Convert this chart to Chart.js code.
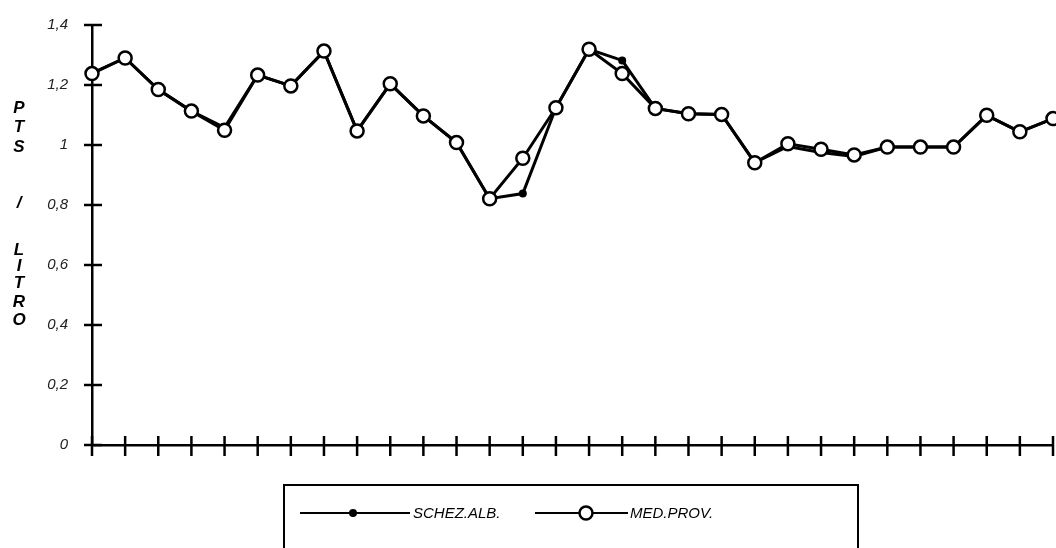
<!DOCTYPE html>
<html>
<head>
<meta charset="utf-8">
<script src="https://cdn.jsdelivr.net/npm/chart.js@4.4.1/dist/chart.umd.min.js"></script>
<style>
  html, body { margin: 0; padding: 0; background: #fff; }
  #wrap { width: 1056px; height: 548px; position: relative; }
</style>
</head>
<body>
<div id="wrap"><canvas id="linechart" width="1056" height="548"></canvas></div>
<script>
// data
var labels = ['1','2','3','4','5','6','7','8','9','10','11','12','13','14','15',
              '16','17','18','19','20','21','22','23','24','25','26','27','28','29','30'];
var schezAlb = [1.24, 1.29, 1.185, 1.113, 1.058, 1.233, 1.197, 1.313, 1.047, 1.204,
                1.097, 1.008, 0.821, 0.838, 1.124, 1.319, 1.282, 1.122, 1.104, 1.102,
                0.941, 0.995, 0.975, 0.962, 0.993, 0.993, 0.993, 1.099, 1.044, 1.088];
var medProv  = [1.238, 1.29, 1.185, 1.113, 1.049, 1.233, 1.197, 1.313, 1.047, 1.204,
                1.097, 1.008, 0.821, 0.956, 1.124, 1.319, 1.238, 1.122, 1.104, 1.102,
                0.941, 1.004, 0.986, 0.967, 0.993, 0.993, 0.993, 1.099, 1.044, 1.088];
var yTitle = ['P', 'T', 'S', '/', 'L', 'I', 'T', 'R', 'O'];
var yTitleY = [108, 127, 147, 203, 250, 266, 283, 302, 320];

// axis ticks crossing both sides of the axis lines, vertical title, boxed legend
var decor = {
  id: 'decor',
  afterDraw: function(chart) {
    var ctx = chart.ctx;
    var xs = chart.scales.x, ys = chart.scales.y;
    var a = chart.chartArea;
    ctx.save();
    ctx.strokeStyle = '#000';
    ctx.lineWidth = 2.5;
    for (var i = 0; i < ys.ticks.length; i++) {
      var py = ys.getPixelForTick(i);
      ctx.beginPath(); ctx.moveTo(a.left - 8, py); ctx.lineTo(a.left + 10, py); ctx.stroke();
    }
    for (var j = 0; j < labels.length; j++) {
      var px = xs.getPixelForValue(j);
      ctx.beginPath(); ctx.moveTo(px, a.bottom - 9); ctx.lineTo(px, a.bottom + 11); ctx.stroke();
    }

    ctx.fillStyle = '#000';
    ctx.font = 'italic bold 17px "Liberation Sans", Arial, sans-serif';
    ctx.textAlign = 'center';
    ctx.textBaseline = 'middle';
    for (var k = 0; k < yTitle.length; k++) {
      ctx.fillText(yTitle[k], 19, yTitleY[k]);
    }

    // legend
    ctx.lineWidth = 2;
    ctx.strokeRect(284, 485, 574, 70);
    var ly = 513;
    ctx.beginPath(); ctx.moveTo(300, ly); ctx.lineTo(410, ly); ctx.stroke();
    ctx.beginPath(); ctx.arc(353, ly, 4, 0, Math.PI * 2); ctx.fill();
    ctx.beginPath(); ctx.moveTo(535, ly); ctx.lineTo(628, ly); ctx.stroke();
    ctx.beginPath(); ctx.arc(586, ly, 6.5, 0, Math.PI * 2);
    ctx.fillStyle = '#fff'; ctx.fill(); ctx.lineWidth = 2.5; ctx.stroke();
    ctx.fillStyle = '#000';
    ctx.font = 'italic 15px "Liberation Sans", Arial, sans-serif';
    ctx.textAlign = 'left';
    ctx.fillText(chart.data.datasets[0].label, 413, ly + 1);
    ctx.fillText(chart.data.datasets[1].label, 630, ly + 1);
    ctx.restore();
  }
};

var ctx = document.getElementById('linechart').getContext('2d');
var chart = new Chart(ctx, {
  type: 'line',
  data: {
    labels: labels,
    datasets: [
      {
        label: 'SCHEZ.ALB.',
        data: schezAlb,
        borderColor: '#000',
        borderWidth: 3,
        backgroundColor: '#000',
        pointRadius: 4,
        pointBorderWidth: 0,
        pointBackgroundColor: '#000',
        tension: 0,
        clip: false,
        order: 2
      },
      {
        label: 'MED.PROV.',
        data: medProv,
        borderColor: '#000',
        borderWidth: 3,
        backgroundColor: '#fff',
        pointRadius: 6.5,
        pointBorderWidth: 2.5,
        pointBorderColor: '#000',
        pointBackgroundColor: '#fff',
        tension: 0,
        clip: false,
        order: 1
      }
    ]
  },
  options: {
    responsive: false,
    animation: false,
    layout: { autoPadding: false, padding: { top: 10, right: 3, bottom: 95, left: 0 } },
    plugins: { legend: { display: false }, tooltip: { enabled: false } },
    scales: {
      x: {
        offset: false,
        grid: { display: false },
        border: { display: true, color: '#000', width: 2.5 },
        ticks: { display: false }
      },
      y: {
        min: 0,
        max: 1.4,
        afterFit: function(scale) { scale.width = 92; },
        grid: { display: false },
        border: { display: true, color: '#000', width: 2.5 },
        ticks: {
          stepSize: 0.2,
          padding: 16,
          color: '#222',
          font: { family: '"Liberation Sans", Arial, sans-serif', size: 15, style: 'italic' },
          callback: function(v) { return (Math.round(v * 10) / 10).toString().replace('.', ','); }
        }
      }
    }
  },
  plugins: [decor]
});
</script>
</body>
</html>
